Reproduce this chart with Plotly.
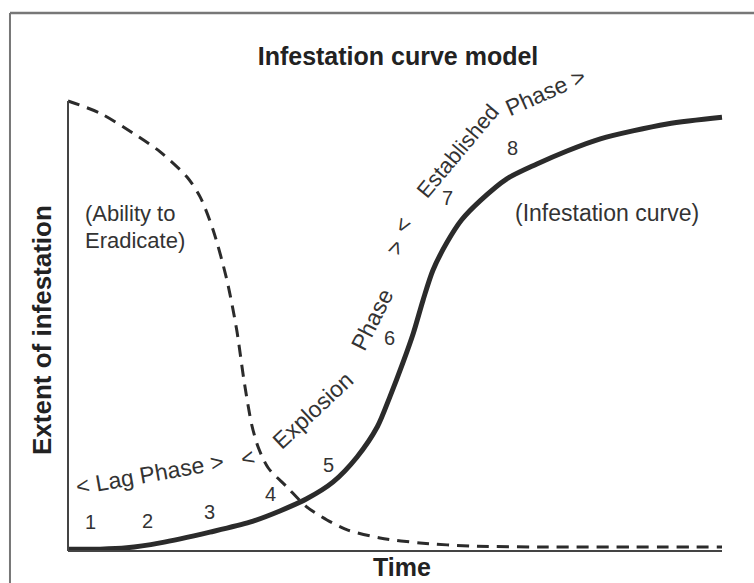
import plotly.graph_objects as go

# ---- data ----
infest_time = [0, 4.9, 9.0, 14.1, 21.7, 27.8, 32.4, 36.5, 40.5, 44.2, 47.3, 49.2,
               51.2, 52.8, 54.3, 55.8, 58.0, 60.2, 63.0, 67.1, 71.7, 76.3, 81.4, 91.6, 100]
infest_extent = [0.4, 0.4, 0.7, 1.8, 4.2, 6.4, 8.9, 11.6, 15.3, 20.9, 27.6, 34.2,
                 41.8, 48.4, 55.8, 62.4, 68.7, 73.6, 77.8, 82.7, 86.0, 88.9, 91.6, 94.9, 96.4]

erad_time = [0, 4.9, 9.9, 14.1, 18.2, 20.2, 22.2, 24.3, 25.8, 26.9, 28.1, 29.1,
             30.6, 33.5, 36.5, 39.6, 42.7, 47.7, 53.8, 61.5, 72.2, 100]
erad_ability = [100, 97.3, 92.9, 88.7, 83.1, 78.7, 71.3, 60.2, 49.1, 38.0, 28.0, 23.0,
                18.5, 14.2, 9.8, 6.9, 4.7, 2.9, 1.8, 1.1, 0.9, 0.9]

stage_labels = ["1", "2", "3", "4", "5", "6", "7", "8"]
stage_time = [3.4, 12.2, 21.6, 31.0, 39.9, 49.2, 58.1, 68.0]
stage_level = [6.4, 6.7, 8.7, 12.7, 19.1, 47.3, 78.4, 89.6]

phase_texts = ["< Lag Phase >", "<", "Explosion", "Phase", ">", "<", "Established", "Phase >"]
phase_time = [12.5, 27.4, 37.5, 46.5, 50.0, 51.2, 59.7, 73.0]
phase_level = [17.1, 20.7, 31.3, 51.3, 67.3, 72.4, 88.9, 102.0]
phase_angle = [-10, -15, -43, -63, -70, -60, -50, -24]

INK = "#2b2b2b"
TXT = "#333333"
FONT = "Liberation Sans, Arial, Helvetica, sans-serif"

fig = go.Figure()
fig.add_trace(go.Scatter(x=erad_time, y=erad_ability, mode="lines",
                         line=dict(color=INK, width=3, dash="12px,8px", shape="spline", smoothing=0.8),
                         hoverinfo="skip", showlegend=False))
fig.add_trace(go.Scatter(x=infest_time, y=infest_extent, mode="lines",
                         line=dict(color=INK, width=5, shape="spline", smoothing=0.8),
                         hoverinfo="skip", showlegend=False))

ann = []
for t, x, y in zip(stage_labels, stage_time, stage_level):
    ann.append(dict(x=x, y=y, text=t, showarrow=False, font=dict(size=20, color=TXT, family=FONT)))
for t, x, y, a in zip(phase_texts, phase_time, phase_level, phase_angle):
    ann.append(dict(x=x, y=y, text=t, showarrow=False, textangle=a,
                    font=dict(size=23 if t != "Established" else 22, color=TXT, family=FONT)))
ann.append(dict(x=2.3, y=75.1, text="(Ability to", showarrow=False,
                xanchor="left", yanchor="middle", font=dict(size=22, color=TXT, family=FONT)))
ann.append(dict(x=2.3, y=69.1, text="Eradicate)", showarrow=False,
                xanchor="left", yanchor="middle", font=dict(size=22, color=TXT, family=FONT)))
ann.append(dict(x=82.4, y=75.1, text="(Infestation curve)", showarrow=False,
                font=dict(size=23, color=TXT, family=FONT)))
ann.append(dict(xref="paper", yref="paper", x=0.5106, y=-0.0605, text="<b>Time</b>",
                xanchor="center", yanchor="bottom",
                showarrow=False, font=dict(size=25, color="#222", family=FONT)))
ann.append(dict(xref="paper", yref="paper", x=-0.0332, y=0.4523, text="<b>Extent of infestation</b>",
                xanchor="center", yanchor="middle",
                textangle=-90, showarrow=False, font=dict(size=26, color="#222", family=FONT)))

shapes = [
    # axes
    dict(type="line", xref="x", yref="y", x0=0, y0=0, x1=0, y1=100, line=dict(color="#444", width=2)),
    dict(type="line", xref="x", yref="y", x0=0, y0=0, x1=100, y1=0, line=dict(color="#444", width=2)),
    # outer frame of the scanned page
    dict(type="line", xref="paper", yref="paper", x0=-0.0816, y0=1.0953, x1=1.05, y1=1.0953,
         line=dict(color="#777", width=2.5)),
    dict(type="line", xref="paper", yref="paper", x0=-0.0816, y0=1.0953, x1=-0.0816, y1=-0.07,
         line=dict(color="#777", width=2)),
]

fig.update_layout(
    width=754, height=583,
    margin=dict(l=64, r=28, t=60, b=30),
    paper_bgcolor="white", plot_bgcolor="white",
    title=dict(text="<b>Infestation curve model</b>", x=398 / 754, y=1 - 56 / 583,
               xanchor="center", yanchor="middle", xref="container", yref="container",
               font=dict(size=25, color="#222", family=FONT)),
    xaxis=dict(range=[-0.612, 100.612], visible=False, fixedrange=True),
    yaxis=dict(range=[-0.444, 109.111], visible=False, fixedrange=True),
    annotations=ann, shapes=shapes,
)

fig.write_html("out.html", config={"displayModeBar": False},
               post_script="document.body.style.margin='0';")
